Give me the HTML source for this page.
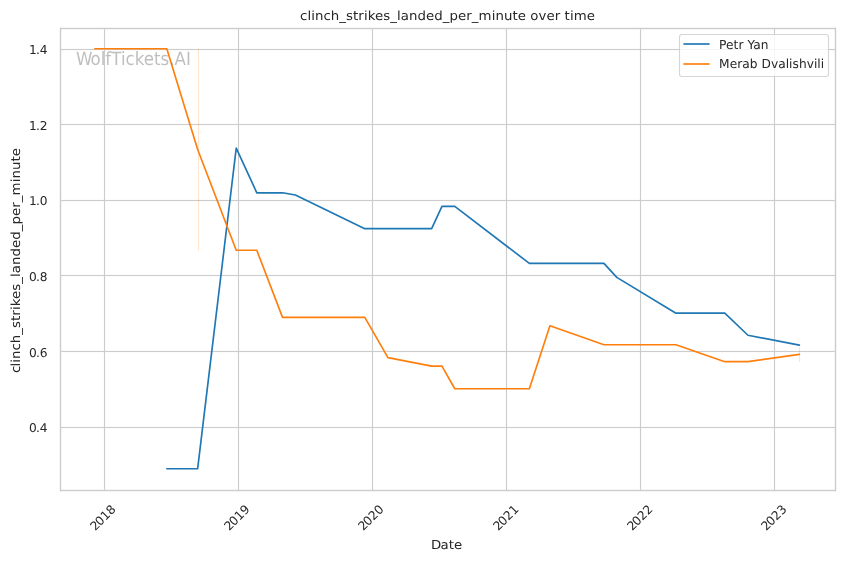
<!DOCTYPE html>
<html lang="en"><head><meta charset="utf-8"><title>clinch_strikes_landed_per_minute over time</title>
<style>
html,body{margin:0;padding:0;background:#fff;}
body{width:844px;height:561px;overflow:hidden;}
svg{display:block;}
svg text{font-family:"DejaVu Sans","Liberation Sans",sans-serif;fill:#262626;text-rendering:geometricPrecision;}
.g{stroke:#ccc;stroke-width:1.111;fill:none;}
.sp{stroke:#ccc;stroke-width:1.389;fill:none;stroke-linecap:square;}
.ln{fill:none;stroke-width:1.667;stroke-linecap:round;stroke-linejoin:round;}
</style></head><body>
<svg width="844" height="561" viewBox="0 0 844 561">
<rect x="0" y="0" width="844" height="561" fill="#ffffff"/>
<g class="g">
<path d="M104.5 28.5V490.5"/>
<path d="M238.5 28.5V490.5"/>
<path d="M372.5 28.5V490.5"/>
<path d="M506.5 28.5V490.5"/>
<path d="M640.5 28.5V490.5"/>
<path d="M774.5 28.5V490.5"/>
</g>
<g stroke="#ccc" fill="none">
<path stroke-width="3" stroke-opacity="0.0555" d="M60.5 427.5H835.5"/>
<path stroke-width="1" d="M60.5 427.5H835.5"/>
<path stroke-width="3" stroke-opacity="0.0555" d="M60.5 351.5H835.5"/>
<path stroke-width="1" d="M60.5 351.5H835.5"/>
<path stroke-width="3" stroke-opacity="0.0555" d="M60.5 275.5H835.5"/>
<path stroke-width="1" d="M60.5 275.5H835.5"/>
<path stroke-width="3" stroke-opacity="0.0555" d="M60.5 200.5H835.5"/>
<path stroke-width="1" d="M60.5 200.5H835.5"/>
<path stroke-width="3" stroke-opacity="0.0555" d="M60.5 124.5H835.5"/>
<path stroke-width="1" d="M60.5 124.5H835.5"/>
<path stroke-width="3" stroke-opacity="0.0555" d="M60.5 49.5H835.5"/>
<path stroke-width="1" d="M60.5 49.5H835.5"/>
</g>
<g stroke="#ff7f0e" stroke-opacity="0.2" stroke-width="1.111" fill="none">
<path d="M198.5 48.716V250.26"/>
<path d="M799.5 346.8V361.9"/>
</g>
<path class="ln" stroke="#1f77b4" d="M166.808 468.716 L197.664 468.716 L236.234 148.14 L256.805 192.8 L282.518 192.8 L295.375 195.02 L364.801 228.68 L387.943 228.68 L431.655 228.68 L441.941 206.33 L454.797 206.33 L529.366 263.4 L549.937 263.4 L603.935 263.4 L616.791 277.35 L675.932 313.2 L724.787 313.2 L747.929 335.27 L799.356 345.1"/>
<path class="ln" stroke="#ff7f0e" d="M94.811 48.716 L166.808 48.716 L197.664 149.5 L236.234 250.26 L256.805 250.26 L282.518 317.38 L295.375 317.38 L364.801 317.38 L387.943 357.57 L431.655 366.12 L441.941 366.12 L454.797 388.75 L529.366 388.75 L549.937 325.82 L603.935 344.71 L616.791 344.71 L675.932 344.71 L724.787 361.67 L747.929 361.67 L799.356 354.45"/>
<path class="sp" d="M60.5 490.5V28.5M835.5 490.5V28.5"/>
<path stroke="#ccc" fill="none" stroke-width="3" stroke-opacity="0.1944" d="M60 490.5H836M60 28.5H836"/>
<path stroke="#ccc" fill="none" stroke-width="1" d="M60 490.5H836M60 28.5H836"/>
<g>
<text transform="translate(94.522 532.056) rotate(-45) scale(1 0.99)" x="1 7.75 15.5 23.25" y="0" font-size="12.222">2018</text>
<text transform="translate(228.598 532.056) rotate(-45)" x="1 7.75 15.5 23.25" y="0" font-size="12.222">2019</text>
<text transform="translate(362.55 532.056) rotate(-45)" x="1 7.75 15.5 23.25" y="0" font-size="12.222">2020</text>
<text transform="translate(497.494 532.056) rotate(-45)" x="1 7.75 15.5 23.25" y="0" font-size="12.222">2021</text>
<text transform="translate(631.446 532.056) rotate(-45)" x="1.25 7.75 15.5 23.25" y="0" font-size="12.222">2022</text>
<text transform="translate(765.522 532.056) rotate(-45)" x="1 7.75 15.5 23.25" y="0" font-size="12.222">2023</text>
</g>
<text transform="translate(446.208 549) scale(1 0.93)" x="-15.312 -5.812 2.438 7.812" y="0" font-size="13.333">Date</text>
<g>
<text transform="translate(47.556 432) scale(1 0.98)" x="-18.625 -11.625 -7.75" y="0" font-size="12.222">0.4</text>
<text transform="translate(47.556 357)" x="-18.625 -11.625 -7.75" y="0" font-size="12.222">0.6</text>
<text transform="translate(47.681 281) scale(1 0.98)" x="-18.75 -11.75 -7.875" y="0" font-size="12.222">0.8</text>
<text transform="translate(47.556 205) scale(1 0.98)" x="-18.625 -11.625 -7.75" y="0" font-size="12.222">1.0</text>
<text transform="translate(47.556 130)" x="-18.625 -11.625 -7.75" y="0" font-size="12.222">1.2</text>
<text transform="translate(47.556 54) scale(1 1.01)" x="-18.625 -11.625 -7.75" y="0" font-size="12.222">1.4</text>
</g>
<text transform="translate(19.669 260.966) rotate(-90) scale(1 0.94)" x="-112 -105.625 -101.875 -98.125 -89.625 -82.25 -73.75 -67 -60.125 -54.75 -49.125 -45.375 -38 -29.75 -22.875 -16.125 -12.375 -4.125 4.375 12.875 21.125 29.625 36.375 44.875 53.125 58.75 65.5 78.625 82.375 90.875 99.375 104.75" y="0" font-size="13.333">clinch_strikes_landed_per_minute</text>
<text transform="translate(75.083 65) scale(1 1.1)" x="1 15.5 25.625 30.25 36.125 45.875 50.5 59.625 68.75 79 85.5 94.25 99.5 110.875" y="0" font-size="16.667" opacity="0.5" style="fill:#808080">WolfTickets.AI</text>
<text transform="translate(447.583 20) scale(1 0.95)" x="-147.5 -140.125 -136.375 -132.625 -124.125 -116.75 -108.25 -101.5 -94.625 -89.25 -83.625 -79.875 -72.5 -64.25 -57.375 -50.625 -46.875 -38.625 -30.125 -21.625 -13.375 -4.875 1.875 10.375 18.625 24.25 31 44.125 47.875 56.375 64.875 70.25 78.5 82.75 91 98.875 107.125 112.75 117 122.375 126.125 139.25" y="0" font-size="13.333">clinch_strikes_landed_per_minute over time</text>
<rect x="679.5" y="34.5" width="149" height="42" rx="2.44" ry="2.44" fill="#ffffff" fill-opacity="0.8" stroke="#cccccc" stroke-opacity="0.8" stroke-width="1.111"/>
<path fill="none" stroke="#1f77b4" stroke-width="2" stroke-opacity="0.835" d="M683.41 44H709.59"/>
<text transform="translate(719.025 49) scale(1 1.02)" x="0 7 14.5 19.375 24.5 28.375 34.125 41.625" y="0" font-size="12.222">Petr Yan</text>
<path fill="none" stroke="#ff7f0e" stroke-width="2" stroke-opacity="0.835" d="M683.41 64H709.59"/>
<text transform="translate(719.025 68) scale(1 1.02)" x="0 10.625 18.125 23.25 30.75 38.5 42.375 51.875 59.125 66.625 70 73.375 79.875 87.625 94.875 98.25 101.625" y="0" font-size="12.222">Merab Dvalishvili</text>
</svg>
</body></html>
